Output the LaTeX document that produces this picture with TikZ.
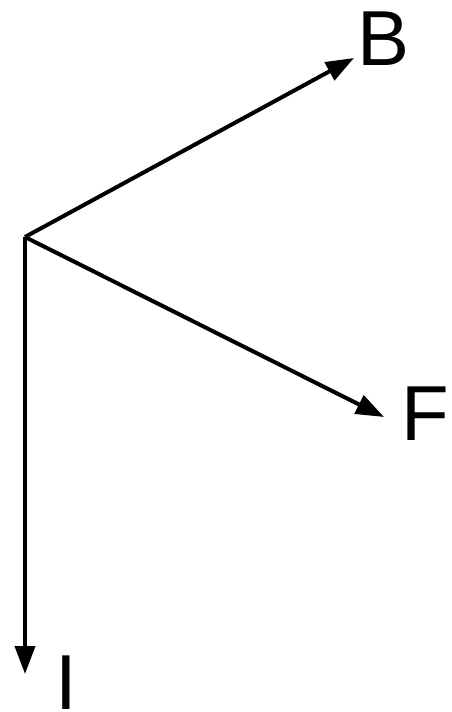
\documentclass[tikz,border=0pt]{standalone}
\usepackage{fontspec}
\setmainfont{Liberation Sans}
\usetikzlibrary{arrows.meta}
\begin{document}
\begin{tikzpicture}[x=1pt,y=-1pt,
  arr/.style={line width=4pt,-{Triangle[length=28pt,width=20pt]}},
  lbl/.style={inner sep=0pt,anchor=base west,font=\fontsize{78}{78}\selectfont}]
\useasboundingbox (0,0) rectangle (452,712);
\coordinate (O) at (25,237);
\coordinate (tB) at (354,58);
\coordinate (tF) at (384,417);
\coordinate (tI) at (25,674);
\node[lbl] (B) at (357,65) {B};
\node[lbl] (F) at (401,440) {F};
\node[lbl] (I) at (55,709) {I};
\draw[arr] (O) -- (tB);
\draw[arr] (O) -- (tF);
\draw[arr] (O) -- (tI);
\end{tikzpicture}
\end{document}
